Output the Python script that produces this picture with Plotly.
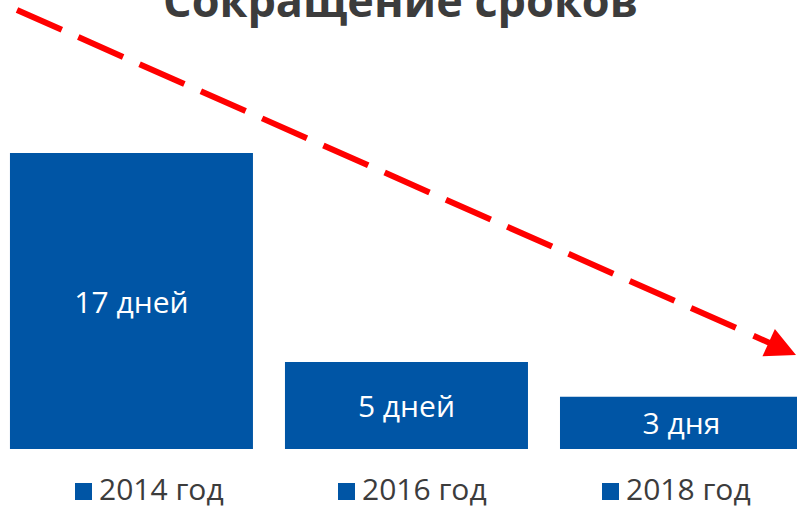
import plotly.graph_objects as go

# ---- data ----
years = ["2014 год", "2016 год", "2018 год"]
days = [17, 5, 3]
bar_labels = ["17 дней", "5 дней", "3 дня"]
title_text = "Сокращение сроков"

W, H = 797, 512
BLUE = "#0055A5"
RED = "#FF0000"
DARK = "#3C3C3C"
FONT = "Open Sans"

def px(x):
    return x / W

def py(y):
    return 1 - y / H

fig = go.Figure()
fig.add_trace(go.Bar(
    x=years, y=days, text=bar_labels,
    marker=dict(color=BLUE, line=dict(width=0)),
    textposition="inside", insidetextanchor="middle",
    textfont=dict(family=FONT, size=30, color="white"),
    constraintext="none",
    showlegend=False, hoverinfo="skip",
))

unit = 296 / 17
fig.update_layout(
    width=W, height=H,
    margin=dict(l=0, r=0, t=0, b=0),
    paper_bgcolor="white", plot_bgcolor="white",
    bargap=0.1164,
    xaxis=dict(range=[-0.478, 2.42], visible=False, fixedrange=True),
    yaxis=dict(range=[-(512 - 449) / unit, 449 / unit], visible=False, fixedrange=True),
    showlegend=False,
)

# title
fig.add_annotation(
    text="<b>" + title_text + "</b>", xref="paper", yref="paper",
    x=px(400.5), y=py(-33), xanchor="center", yanchor="top",
    showarrow=False, font=dict(family=FONT, size=45, color=DARK),
)

# legend-like labels under bars
sq_left = [75, 338, 602]
for i, name in enumerate(years):
    x0 = sq_left[i]
    fig.add_shape(type="rect", xref="paper", yref="paper",
                  x0=px(x0), x1=px(x0 + 17), y0=py(500), y1=py(483),
                  fillcolor=BLUE, line=dict(width=0))
    fig.add_annotation(
        text=name, xref="paper", yref="paper",
        x=px(x0 + 22), y=py(488.5), xanchor="left", yanchor="middle",
        showarrow=False, font=dict(family=FONT, size=30, color=DARK),
    )

# dashed trend arrow
fig.add_shape(type="line", xref="paper", yref="paper",
              x0=px(17), y0=py(10), x1=px(752), y1=py(335),
              line=dict(color=RED, width=6, dash="49px,18px"))
fig.add_annotation(
    text="", xref="paper", yref="paper",
    x=px(797), y=py(355), ax=752 - 797, ay=335 - 355,
    showarrow=True, arrowhead=2, arrowsize=1, arrowwidth=6,
    arrowcolor=RED, standoff=0,
)

fig.write_html(
    "out.html",
    config={"displayModeBar": False, "staticPlot": True},
    post_script="document.body.style.margin='0';document.body.style.overflow='hidden';",
)
